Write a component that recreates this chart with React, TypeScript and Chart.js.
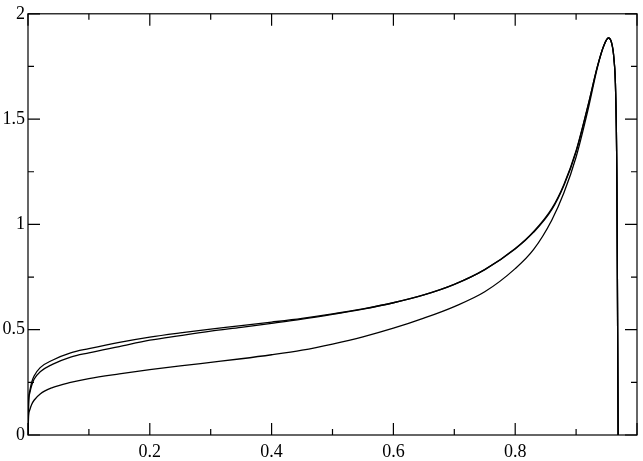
import React, { useEffect, useRef } from "react";
import { Chart, registerables } from "chart.js";

Chart.register(...registerables);

const xValues = [
  0, 0.001, 0.003, 0.006, 0.01, 0.02, 0.04, 0.07, 0.1, 0.15, 0.2, 0.25, 0.3, 0.35, 0.4, 0.45,
  0.5, 0.55, 0.6, 0.65, 0.7, 0.75, 0.8, 0.83, 0.86, 0.88, 0.9, 0.92, 0.935, 0.945, 0.953,
  0.958, 0.962, 0.965, 0.967, 0.969,
];

const seriesA = [
  0, 0.16, 0.21, 0.25, 0.28, 0.32, 0.355, 0.39, 0.41, 0.44, 0.465, 0.485, 0.503, 0.519, 0.536, 0.554,
  0.575, 0.599, 0.628, 0.665, 0.715, 0.785, 0.885, 0.965, 1.075, 1.19, 1.35, 1.57, 1.75, 1.845, 1.885,
  1.865, 1.79, 1.62, 1.2, 0,
];

const seriesB = [
  0, 0.15, 0.2, 0.235, 0.265, 0.3, 0.335, 0.37, 0.39, 0.42, 0.45, 0.472, 0.493, 0.511, 0.53, 0.55,
  0.573, 0.598, 0.628, 0.665, 0.715, 0.785, 0.883, 0.962, 1.07, 1.185, 1.345, 1.568, 1.75, 1.845, 1.885,
  1.865, 1.79, 1.62, 1.2, 0,
];

const seriesC = [
  0, 0.09, 0.12, 0.145, 0.165, 0.195, 0.225, 0.25, 0.268, 0.29, 0.31, 0.328, 0.345, 0.362, 0.381, 0.403,
  0.432, 0.466, 0.507, 0.555, 0.61, 0.68, 0.79, 0.88, 1.02, 1.15, 1.32, 1.55, 1.745, 1.845, 1.885,
  1.865, 1.79, 1.62, 1.2, 0,
];

const xTickLabels = ["0.2", "0.4", "0.6", "0.8"];
const yTickLabels = ["0", "0.5", "1", "1.5", "2"];

const framePlugin = {
  id: "xmgrFrame",
  afterDatasetsDraw(chart: any) {
    const { ctx, chartArea, scales } = chart;
    const { left, right, top, bottom } = chartArea;
    const x = scales.x;
    const y = scales.y;
    ctx.save();
    ctx.strokeStyle = "#000";
    ctx.lineWidth = 1.2;
    ctx.strokeRect(left, top, right - left, bottom - top);
    ctx.beginPath();
    x.ticks.forEach((t: any) => {
      const major = Math.round(t.value * 10) % 2 === 0;
      const len = major ? 12 : 6;
      const px = x.getPixelForValue(t.value);
      ctx.moveTo(px, bottom);
      ctx.lineTo(px, bottom - len);
      ctx.moveTo(px, top);
      ctx.lineTo(px, top + len);
    });
    y.ticks.forEach((t: any) => {
      const major = Math.round(t.value * 4) % 2 === 0;
      const len = major ? 12 : 6;
      const py = y.getPixelForValue(t.value);
      ctx.moveTo(left, py);
      ctx.lineTo(left + len, py);
      ctx.moveTo(right, py);
      ctx.lineTo(right - len, py);
    });
    ctx.stroke();
    ctx.restore();
  },
};

export default function App() {
  const ref = useRef<HTMLCanvasElement | null>(null);

  useEffect(() => {
    if (!ref.current) return;
    const mk = (vals: number[]) => xValues.map((x, i) => ({ x, y: vals[i] }));
    const ds = (vals: number[]) => ({
      data: mk(vals),
      borderColor: "#000",
      borderWidth: 1.3,
      pointRadius: 0,
      fill: false,
      cubicInterpolationMode: "monotone" as const,
    });
    const font = { family: "'Liberation Serif', 'DejaVu Serif', serif", size: 18 };
    const chart = new Chart(ref.current, {
      type: "line",
      data: { datasets: [ds(seriesA), ds(seriesB), ds(seriesC)] },
      plugins: [framePlugin],
      options: {
        animation: false,
        responsive: false,
        devicePixelRatio: 1,
        layout: { padding: { top: 8, right: 2, left: 0, bottom: 0 } },
        plugins: { legend: { display: false }, tooltip: { enabled: false } },
        scales: {
          x: {
            type: "linear",
            min: 0,
            max: 1,
            grid: { display: false, drawTicks: false },
            border: { display: false },
            afterFit: (s: any) => {
              s.height = 26;
            },
            ticks: {
              stepSize: 0.1,
              autoSkip: false,
              maxRotation: 0,
              padding: 6,
              color: "#000",
              font,
              callback: (v: any) => {
                const s = String(Math.round(Number(v) * 10) / 10);
                return xTickLabels.includes(s) ? s : "";
              },
            },
          },
          y: {
            type: "linear",
            min: 0,
            max: 2,
            grid: { display: false, drawTicks: false },
            border: { display: false },
            afterFit: (s: any) => {
              s.width = 28;
            },
            ticks: {
              stepSize: 0.25,
              autoSkip: false,
              padding: 3,
              color: "#000",
              font,
              callback: (v: any) => {
                const s = String(Math.round(Number(v) * 100) / 100);
                return yTickLabels.includes(s) ? s : "";
              },
            },
          },
        },
      },
    });
    return () => chart.destroy();
  }, []);

  return (
    <div style={{ position: "absolute", left: 0, top: 0, width: 643, height: 461, background: "#fff" }}>
      <canvas ref={ref} width={643} height={461} style={{ width: 643, height: 461, display: "block" }} />
    </div>
  );
}
